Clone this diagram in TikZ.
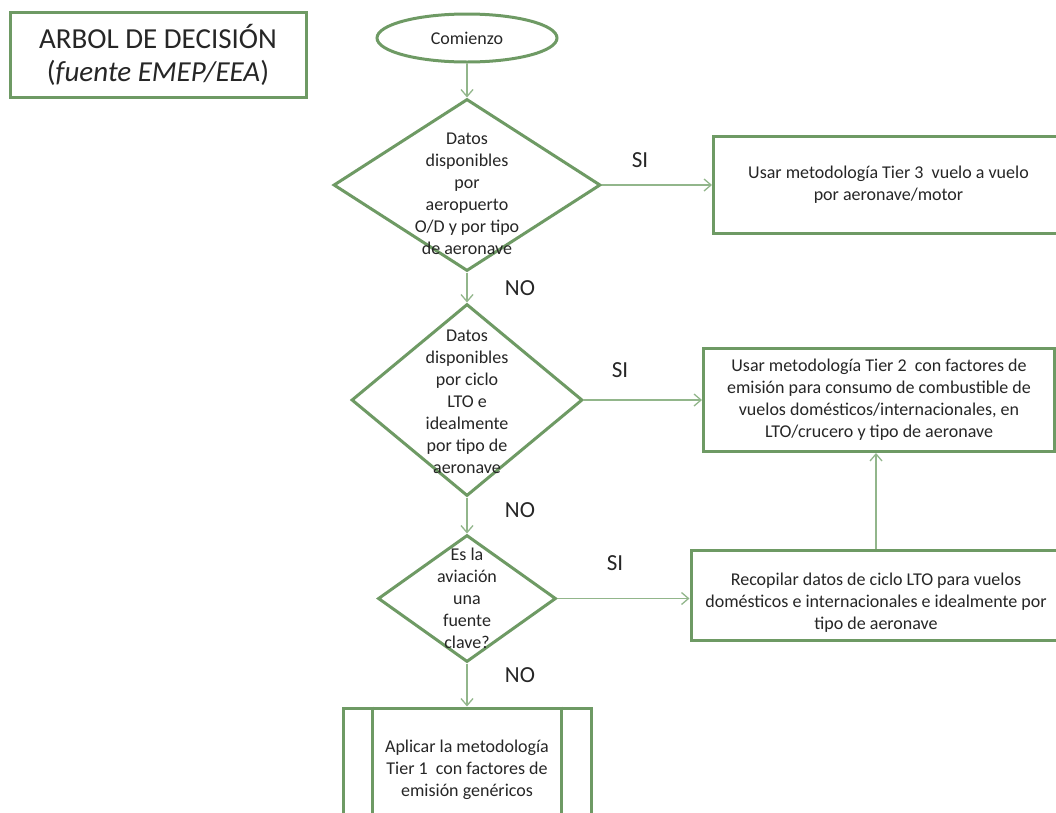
\documentclass[tikz,border=0pt]{standalone}
\usepackage{fontspec}
\setmainfont{Carlito}
\usetikzlibrary{arrows.meta, positioning, shapes.geometric}
\definecolor{borde}{HTML}{6E9A64}
\definecolor{linea}{HTML}{92B68B}
\definecolor{tinta}{HTML}{262626}
\tikzset{
  bx/.style={draw=borde, line width=3pt, fill=white, align=center, text=tinta,
             inner sep=0pt, font=\fontsize{18}{22}\selectfont},
  dc/.style={diamond, draw=borde, line width=3pt, fill=white, inner sep=0pt},
  dt/.style={align=center, text=tinta, inner sep=0pt, font=\fontsize{18}{22}\selectfont},
  lb/.style={text=tinta, inner sep=0pt, font=\fontsize{23}{27}\selectfont},
  fl/.style={-{Straight Barb[length=7pt, width=12pt]}, linea, line width=1.3pt},
}

\begin{document}
\begin{tikzpicture}[x=1pt, y=-1pt]
    \useasboundingbox (0,0) rectangle (1056,812);
    \clip (0,0) rectangle (1056,812);
    % titulo
    \node[bx, minimum width=296pt, minimum height=85pt, font=\fontsize{29}{33}\selectfont]
      (tit) at (158,54.5) {ARBOL DE DECISIÓN\\(\textit{fuente EMEP/EEA})};
    % columna principal
    \node[ellipse, draw=borde, line width=3pt, minimum width=180pt, minimum height=48pt,
          inner sep=0pt, text=tinta, font=\fontsize{18}{22}\selectfont] (ini) at (467,38) {Comienzo};
    \node[dc, minimum width=267pt, minimum height=172pt, below=34pt of ini] (d1) {};
    \node[dc, minimum width=231pt, minimum height=192pt, below=30pt of d1] (d2) {};
    \node[dc, minimum width=178pt, minimum height=127pt, below=36pt of d2] (d3) {};
    \node[bx, minimum width=248pt, minimum height=124pt, below=43pt of d3] (t1)
      {Aplicar la metodología\\Tier 1 \ con factores de\\emisión genéricos};
    \draw[borde, line width=3pt] ([xshift=31pt]t1.north west) -- ([xshift=31pt]t1.south west);
    \draw[borde, line width=3pt] ([xshift=-31pt]t1.north east) -- ([xshift=-31pt]t1.south east);
    \node[dt] (d1t) at ([yshift=-9pt]d1) {Datos\\disponibles\\por\\aeropuerto\\O/D y por tipo\\de aeronave};
    \node[dt] (d2t) at ([yshift=-2pt]d2) {Datos\\disponibles\\por ciclo\\LTO e\\idealmente\\por tipo de\\aeronave};
    \node[dt] (d3t) at (d3) {Es la\\aviación\\una\\fuente\\clave?};
    % cajas de la derecha
    \node[bx, minimum width=350pt, minimum height=97pt, right=110pt of d1] (t3)
      {Usar metodología Tier 3 \ vuelo a vuelo\\por aeronave/motor};
    \node[bx, minimum width=351pt, minimum height=103pt, right=118pt of d2] (t2)
      {Usar metodología Tier 2 \ con factores de\\emisión para consumo de combustible de\\vuelos domésticos/internacionales, en\\LTO/crucero y tipo de aeronave};
    \node[bx, minimum width=370pt, minimum height=90pt, right=132pt of d3, yshift=3pt] (rc) {};
    \node[dt] (rct) at ([yshift=-7pt]rc)
      {Recopilar datos de ciclo LTO para vuelos\\domésticos e internacionales e idealmente por\\tipo de aeronave};
    % etiquetas
    \node[lb] (si1) at (640,160) {SI};
    \node[lb] (si2) at (620,370) {SI};
    \node[lb] (si3) at (615,563) {SI};
    \node[lb] (no1) at (520,288) {NO};
    \node[lb] (no2) at (520,510) {NO};
    \node[lb] (no3) at (520,675) {NO};
    % flechas
    \draw[fl] (ini) -- (d1);
    \draw[fl] (d1) -- (d2);
    \draw[fl] (d2) -- (d3);
    \draw[fl] (d3) -- (t1);
    \draw[fl] (d1.east) -- (d1.east -| t3.west);
    \draw[fl] (d2.east) -- (d2.east -| t2.west);
    \draw[fl] (d3.east) -- (d3.east -| rc.west);
    \draw[fl] (rc.north) -- (rc.north |- t2.south);
  \end{tikzpicture}
\end{document}
